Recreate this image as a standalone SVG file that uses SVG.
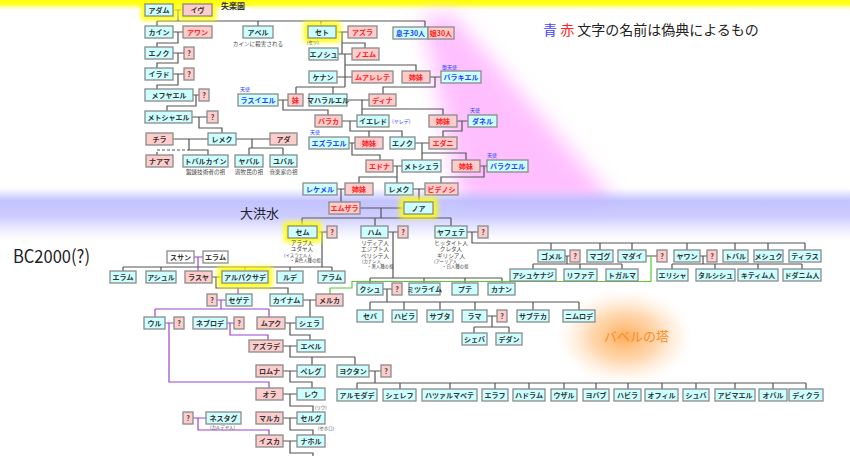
<svg xmlns="http://www.w3.org/2000/svg" width="850" height="456" viewBox="0 0 850 456">
<defs>
<linearGradient id="yel" x1="0" y1="0" x2="0" y2="1"><stop offset="0" stop-color="#ffff00"/><stop offset="0.45" stop-color="#ffff30"/><stop offset="1" stop-color="#ffff80" stop-opacity="0"/></linearGradient>
<linearGradient id="blu" x1="0" y1="0" x2="0" y2="1"><stop offset="0" stop-color="#b8b8ff" stop-opacity="0"/><stop offset="0.25" stop-color="#b8b8ff" stop-opacity="0.85"/><stop offset="0.55" stop-color="#c0c0ff" stop-opacity="0.8"/><stop offset="1" stop-color="#d0d0ff" stop-opacity="0"/></linearGradient>
<radialGradient id="org" cx="0.5" cy="0.5" r="0.5"><stop offset="0" stop-color="#ffa040" stop-opacity="0.85"/><stop offset="0.5" stop-color="#ffb870" stop-opacity="0.55"/><stop offset="1" stop-color="#ffe0c0" stop-opacity="0"/></radialGradient>
<filter id="blur10" x="-50%" y="-50%" width="200%" height="200%"><feGaussianBlur stdDeviation="10"/></filter>
<filter id="glow" x="-50%" y="-50%" width="200%" height="200%"><feGaussianBlur stdDeviation="2.6"/></filter>
</defs>
<style>
text{font-family:"Noto Sans CJK JP","Noto Sans",sans-serif;}
.c{fill:#ccffff;stroke:#8a8a8a;stroke-width:1.3;}
.p{fill:#ffcccc;stroke:#8a8a8a;stroke-width:1.3;}
.w{fill:#ffffff;stroke:#8a8a8a;stroke-width:1.3;}
.g{fill:#ffff00;filter:url(#glow);}
.n{font-size:7px;font-weight:bold;text-anchor:middle;}
.t{fill:#333333;}
.r{fill:#ff2020;}
.b{fill:#2040ff;}
.s{font-size:5.6px;text-anchor:middle;fill:#444444;}
.xs{font-size:4.4px;fill:#444444;}
.a{font-size:5px;fill:#2040ff;}
.ln{fill:none;stroke:#555555;stroke-width:1.2;}
.pl{fill:none;stroke:#9944cc;stroke-width:1.2;}
.gl{fill:none;stroke:#55cc33;stroke-width:1.2;}
.dl{fill:none;stroke:#555555;stroke-width:1.2;stroke-dasharray:3 2;}
</style>
<rect width="850" height="456" fill="#ffffff"/>
<g id="background">
<rect x="0" y="0" width="850" height="10" fill="url(#yel)"/>
<polygon points="422,18 452,14 618,205 462,205" fill="#ffaaff" opacity="0.75" filter="url(#blur10)"/>
<rect x="0" y="188" width="850" height="52" fill="url(#blu)"/>
<ellipse cx="625" cy="337" rx="68" ry="48" fill="url(#org)"/>
</g>
<g id="labels">
<text x="221" y="8.5" font-size="8" font-weight="bold" fill="#333">失楽園</text>
<text x="543" y="35" font-size="14"><tspan fill="#4444ff">青</tspan><tspan fill="#ff2020"> 赤</tspan><tspan fill="#222"> 文字の名前は偽典によるもの</tspan></text>
<text x="240" y="218" font-size="13" fill="#222">大洪水</text>
<text x="13" y="263" font-size="18" fill="#222" textLength="77" lengthAdjust="spacingAndGlyphs">BC2000(?)</text>
<text x="604" y="341" font-size="13" fill="#ff8a20">バベルの塔</text>
</g>
<g id="connectors">
<path class="ln" d="M173,10H183M178,10V21M157,21H425M157,21V26M258,21V26M321,21V26M425,21V27"/>
<path class="ln" d="M173,32H183M178,32V43H157V47M173,53H184M178,53V63H157V68M173,74H184M178,74V85H157V89M193,95H199M196,95V106H167V111M192,117H207M199,117V128H222V133"/>
<path class="ln" d="M173,139H208M236,139H270M189,139V150H208V155M252,139V148M249,148H283M249,148V155M283,148V155"/>
<path class="dl" d="M157,155V150H189"/>
<path class="ln" d="M336,32H348M342,32V54M342,43H365V48M338,54H352M345,54V87M345,65H416V71M337,77H352M296,87H345M296,87V94M333,87V94M430,77H441M435,77V87H383V94"/>
<path class="ln" d="M278,100H288M283,100V110H328V115M347,100H369M362,100V115M362,109H443V115M342,121H357M350,121V131H402V137M369,131V137M457,121H468M462,121V131H443V137"/>
<path class="ln" d="M349,143H355M352,143V155H380V160M414,143H429M422,143V160M422,153H466V160M393,166H402M397,166V183M397,177H359V183M480,166H487M484,166V177H441V183M337,189H345M341,189V202M413,189H425M419,189V202"/>
<path class="ln" d="M360,208H404M381,208V218M302,218H451M302,218V226M375,218V226M451,218V226"/>
<path class="ln" d="M317,232H327M322,232V267M123,267H332M123,267V271M161,267V271M245,267V271M290,267V271M332,267V271"/>
<path class="ln" d="M388,232H398M393,232V278M370,278H502M370,278V283M424,278V283M465,278V283M502,278V283"/>
<path class="ln" d="M467,232H478M472,232V243H805M551,243V250M600,243V250M632,243V250M687,243V250M735,243V250M768,243V250M805,243V250"/>
<path class="ln" d="M565,256H570M567,256V264M533,264H622M533,264V269M580,264V269M622,264V269M646,256H657M700,256H707M703,256V264M672,264H802M672,264V269M715,264V269M758,264V269M802,264V269"/>
<path class="ln" d="M383,289H392M387,289V302M370,302H579M370,302V310M404,302V310M440,302V310M475,302V310M533,302V310M579,302V310M487,316H497M492,316V327M474,327H509M474,327V333M509,327V333"/>
<path class="ln" d="M212,277H222M216,277V288H288V294M303,300H316M310,300V317M285,323H296M290,323V335H310V340M283,346H297M290,346V357H355M312,357V365M355,357V365M283,371H297M290,371V382H312V388"/>
<path class="ln" d="M369,371H381M375,371V383M357,383H806M357,383V389M400,383V389M450,383V389M495,383V389M529,383V389M564,383V389M596,383V389M628,383V389M662,383V389M696,383V389M735,383V389M773,383V389M806,383V389"/>
<path class="ln" d="M283,394H297M290,394V406H313V412M283,418H297M290,418V430H313V435M283,441H297M290,441V453H313V456"/>
<path class="pl" d="M194,257H203M198,257V271M238,288V294M217,300H226M221,300V309M155,309H269M155,309V317M269,309V317M165,323H174M169,323V382H269V388M227,323H234M230,323V335H268V340M193,418H206M198,418V430H269V435"/>
<path class="gl" d="M651,256V281.5H352V288H330V294"/>
</g>
<g id="adam"><rect class="g" x="141" y="0" width="36" height="20"/><rect class="c" x="145" y="4" width="28" height="12"/><text class="n t" x="159" y="12.7">アダム</text></g>
<g id="eve"><rect class="g" x="179" y="0" width="37" height="20"/><rect class="p" x="183" y="4" width="29" height="12"/><text class="n t" x="197.5" y="12.7">イヴ</text></g>
<g id="cain"><rect class="c" x="145" y="26" width="28" height="12"/><text class="n t" x="159" y="34.7">カイン</text></g>
<g id="awan"><rect class="p" x="183" y="26" width="29" height="12"/><text class="n r" x="197.5" y="34.7">アワン</text></g>
<g id="abel"><rect class="c" x="243" y="26" width="30" height="12"/><text class="n t" x="258" y="34.7">アベル</text><text class="s" x="258" y="46">カインに殺害される</text></g>
<g id="seth"><rect class="g" x="304" y="22" width="36" height="20"/><rect class="c" x="308" y="26" width="28" height="12"/><text class="n t" x="322" y="34.7">セト</text><text class="xs" x="307" y="44">(セツ)</text></g>
<g id="azura"><rect class="p" x="348" y="26" width="29" height="12"/><text class="n r" x="362.5" y="34.7">アズラ</text></g>
<g id="sons30"><rect class="c" x="393" y="27" width="35" height="12"/><rect class="p" x="428" y="27" width="26" height="12"/><text class="n b" x="410.5" y="35.7">息子30人</text><text class="n r" x="441" y="35.7">娘30人</text></g>
<g id="enoch1"><rect class="c" x="145" y="47" width="28" height="12"/><text class="n t" x="159" y="55.7">エノク</text></g>
<g id="q1"><rect class="p" x="184" y="47" width="10" height="12"/><text class="n t" x="189" y="55.7">?</text></g>
<g id="enosh"><rect class="c" x="309" y="48" width="29" height="12"/><text class="n t" x="323.5" y="56.7">エノシュ</text></g>
<g id="noam"><rect class="p" x="352" y="48" width="27" height="12"/><text class="n r" x="365.5" y="56.7">ノエム</text></g>
<g id="irad"><rect class="c" x="145" y="68" width="28" height="12"/><text class="n t" x="159" y="76.7">イラド</text></g>
<g id="q2"><rect class="p" x="184" y="68" width="10" height="12"/><text class="n t" x="189" y="76.7">?</text></g>
<g id="kenan"><rect class="c" x="309" y="71" width="28" height="12"/><text class="n t" x="323" y="79.7">ケナン</text></g>
<g id="mualelet"><rect class="p" x="352" y="71" width="41" height="12"/><text class="n r" x="372.5" y="79.7">ムアレレテ</text></g>
<g id="sister1"><rect class="p" x="402" y="71" width="28" height="12"/><text class="n r" x="416" y="79.7">姉妹</text></g>
<g id="barakiel"><text class="a" x="442" y="69">堕天使</text><rect class="c" x="441" y="71" width="40" height="12"/><text class="n b" x="461" y="79.7">バラキエル</text></g>
<g id="mehujael"><rect class="c" x="145" y="89" width="48" height="12"/><text class="n t" x="169" y="97.7">メフヤエル</text></g>
<g id="q3"><rect class="p" x="199" y="89" width="10" height="12"/><text class="n t" x="204" y="97.7">?</text></g>
<g id="rasuiel"><text class="a" x="240" y="91">天使</text><rect class="c" x="238" y="94" width="40" height="12"/><text class="n b" x="258" y="102.7">ラスイエル</text></g>
<g id="imouto"><rect class="p" x="288" y="94" width="15" height="12"/><text class="n r" x="295.5" y="102.7">妹</text></g>
<g id="mahalalel"><rect class="c" x="309" y="94" width="38" height="12"/><text class="n t" x="328" y="102.7">マハラルエル</text></g>
<g id="dina"><rect class="p" x="369" y="94" width="27" height="12"/><text class="n r" x="382.5" y="102.7">ディナ</text></g>
<g id="methushael"><rect class="c" x="145" y="111" width="47" height="12"/><text class="n t" x="168.5" y="119.7">メトシャエル</text></g>
<g id="q4"><rect class="p" x="207" y="111" width="11" height="12"/><text class="n t" x="212.5" y="119.7">?</text></g>
<g id="baraka"><rect class="p" x="315" y="115" width="27" height="12"/><text class="n r" x="328.5" y="123.7">バラカ</text></g>
<g id="jared"><rect class="c" x="357" y="115" width="32" height="12"/><text class="n t" x="373" y="123.7">イエレド</text><text class="a" x="392" y="123" font-size="5.6">(ヤレデ)</text></g>
<g id="sister2"><rect class="p" x="429" y="115" width="28" height="12"/><text class="n r" x="443" y="123.7">姉妹</text></g>
<g id="danel"><text class="a" x="470" y="112">天使</text><rect class="c" x="468" y="115" width="29" height="12"/><text class="n b" x="482.5" y="123.7">ダネル</text></g>
<g id="zillah"><rect class="p" x="146" y="133" width="27" height="12"/><text class="n t" x="159.5" y="141.7">チラ</text></g>
<g id="lamech1"><rect class="c" x="208" y="133" width="28" height="12"/><text class="n t" x="222" y="141.7">レメク</text></g>
<g id="adah"><rect class="p" x="270" y="133" width="27" height="12"/><text class="n t" x="283.5" y="141.7">アダ</text></g>
<g id="ezrael"><text class="a" x="310" y="134">天使</text><rect class="c" x="309" y="137" width="40" height="12"/><text class="n b" x="329" y="145.7">エズラエル</text></g>
<g id="sister3"><rect class="p" x="355" y="137" width="28" height="12"/><text class="n r" x="369" y="145.7">姉妹</text></g>
<g id="enoch2"><rect class="c" x="390" y="137" width="25" height="12"/><text class="n t" x="402.5" y="145.7">エノク</text></g>
<g id="edni"><rect class="p" x="429" y="137" width="28" height="12"/><text class="n r" x="443" y="145.7">エダニ</text></g>
<g id="naamah"><rect class="p" x="146" y="155" width="27" height="12"/><text class="n t" x="159.5" y="163.7">ナアマ</text></g>
<g id="tubalcain"><rect class="c" x="183" y="155" width="45" height="12"/><text class="n t" x="205.5" y="163.7">トバルカイン</text><text class="s" x="205.5" y="173.5" font-size="5">鍛錬技術者の祖</text></g>
<g id="jabal"><rect class="c" x="235" y="155" width="28" height="12"/><text class="n t" x="249" y="163.7">ヤバル</text><text class="s" x="249" y="173.5" font-size="5">遊牧民の祖</text></g>
<g id="jubal"><rect class="c" x="270" y="155" width="27" height="12"/><text class="n t" x="283.5" y="163.7">ユバル</text><text class="s" x="283.5" y="173.5" font-size="5">音楽家の祖</text></g>
<g id="edna"><rect class="p" x="366" y="160" width="27" height="12"/><text class="n r" x="379.5" y="168.7">エドナ</text></g>
<g id="methuselah"><rect class="c" x="402" y="160" width="39" height="12"/><text class="n t" x="421.5" y="168.7">メトシェラ</text></g>
<g id="sister4"><rect class="p" x="452" y="160" width="28" height="12"/><text class="n r" x="466" y="168.7">姉妹</text></g>
<g id="baraqiel"><text class="a" x="487" y="157">天使</text><rect class="c" x="487" y="160" width="41" height="12"/><text class="n b" x="507.5" y="168.7">バラクエル</text></g>
<g id="rakeel"><rect class="c" x="303" y="183" width="34" height="12"/><text class="n b" x="320" y="191.7">レケメル</text></g>
<g id="sister5"><rect class="p" x="345" y="183" width="28" height="12"/><text class="n r" x="359" y="191.7">姉妹</text></g>
<g id="lamech2"><rect class="c" x="385" y="183" width="28" height="12"/><text class="n t" x="399" y="191.7">レメク</text></g>
<g id="betenos"><rect class="p" x="425" y="183" width="33" height="12"/><text class="n r" x="441.5" y="191.7">ビデノシ</text></g>
<g id="emzara"><rect class="p" x="329" y="202" width="31" height="12"/><text class="n r" x="344.5" y="210.7">エムザラ</text></g>
<g id="noah"><rect class="g" x="400" y="198" width="37" height="20"/><rect class="c" x="404" y="202" width="29" height="12"/><text class="n t" x="418.5" y="210.7">ノア</text></g>
<g id="shem"><rect class="g" x="284" y="222" width="37" height="20"/><rect class="c" x="288" y="226" width="29" height="12"/><text class="n t" x="302.5" y="234.7">セム</text>
<text class="s" x="302" y="244.5">アラブ人</text><text class="s" x="302" y="251">ユダヤ人</text><text class="xs" x="284" y="257">(イスラエル人</text><text class="xs" x="290" y="262">・黄色人種の祖</text></g>
<g id="q5"><rect class="p" x="327" y="226" width="10" height="12"/><text class="n t" x="332" y="234.7">?</text></g>
<g id="ham"><rect class="c" x="361" y="226" width="27" height="12"/><text class="n t" x="374.5" y="234.7">ハム</text>
<text class="s" x="375" y="244.5">リディア人</text><text class="s" x="375" y="251">エジプト人</text><text class="s" x="375" y="257.5">ペリシテ人</text><text class="xs" x="362" y="263">(カナン人</text><text class="xs" x="367" y="268">・黒人種の祖</text></g>
<g id="q6"><rect class="p" x="398" y="226" width="10" height="12"/><text class="n t" x="403" y="234.7">?</text></g>
<g id="japheth"><rect class="c" x="435" y="226" width="32" height="12"/><text class="n t" x="451" y="234.7">ヤフェテ</text>
<text class="s" x="451" y="244.5">ヒッタイト人</text><text class="s" x="451" y="251">クレタ人</text><text class="s" x="451" y="257.5">ギリシア人</text><text class="xs" x="434" y="263">(アーリア人</text><text class="xs" x="442" y="268">・白人種の祖</text></g>
<g id="q7"><rect class="p" x="478" y="226" width="10" height="12"/><text class="n t" x="483" y="234.7">?</text></g>
<g id="susan"><rect class="w" x="167" y="251" width="27" height="12"/><text class="n t" x="180.5" y="259.7">スサン</text></g>
<g id="elam0"><rect class="w" x="203" y="251" width="25" height="12"/><text class="n t" x="215.5" y="259.7">エラム</text></g>
<g id="elam"><rect class="c" x="110" y="271" width="26" height="12"/><text class="n t" x="123" y="279.7">エラム</text></g>
<g id="asshur"><rect class="c" x="146" y="271" width="30" height="12"/><text class="n t" x="161" y="279.7">アシュル</text></g>
<g id="rasuya"><rect class="p" x="185" y="271" width="27" height="12"/><text class="n t" x="198.5" y="279.7">ラスヤ</text></g>
<g id="arpachshad"><rect class="g" x="218" y="267" width="54" height="20"/><rect class="c" x="222" y="271" width="46" height="12"/><text class="n t" x="245" y="279.7">アルパクサデ</text></g>
<g id="lud"><rect class="c" x="277" y="271" width="26" height="12"/><text class="n t" x="290" y="279.7">ルデ</text></g>
<g id="aram"><rect class="c" x="318" y="271" width="27" height="12"/><text class="n t" x="331.5" y="279.7">アラム</text></g>
<g id="q8"><rect class="p" x="207" y="294" width="10" height="12"/><text class="n t" x="212" y="302.7">?</text></g>
<g id="segete"><rect class="c" x="226" y="294" width="26" height="12"/><text class="n t" x="239" y="302.7">セゲテ</text></g>
<g id="kainam"><rect class="c" x="270" y="294" width="33" height="12"/><text class="n t" x="286.5" y="302.7">カイナム</text></g>
<g id="melka"><rect class="p" x="316" y="294" width="27" height="12"/><text class="n t" x="329.5" y="302.7">メルカ</text></g>
<g id="ur"><rect class="c" x="144" y="317" width="21" height="12"/><text class="n t" x="154.5" y="325.7">ウル</text></g>
<g id="q9"><rect class="p" x="174" y="317" width="10" height="12"/><text class="n t" x="179" y="325.7">?</text></g>
<g id="nebrod"><rect class="c" x="193" y="317" width="34" height="12"/><text class="n t" x="210" y="325.7">ネブロデ</text></g>
<g id="q10"><rect class="p" x="234" y="317" width="10" height="12"/><text class="n t" x="239" y="325.7">?</text></g>
<g id="muak"><rect class="p" x="257" y="317" width="28" height="12"/><text class="n t" x="271" y="325.7">ムアク</text></g>
<g id="shelah"><rect class="c" x="296" y="317" width="27" height="12"/><text class="n t" x="309.5" y="325.7">シェラ</text></g>
<g id="azurad"><rect class="p" x="249" y="340" width="34" height="12"/><text class="n t" x="266" y="348.7">アズラデ</text></g>
<g id="eber"><rect class="c" x="297" y="340" width="28" height="12"/><text class="n t" x="311" y="348.7">エベル</text></g>
<g id="romna"><rect class="p" x="256" y="365" width="27" height="12"/><text class="n t" x="269.5" y="373.7">ロムナ</text></g>
<g id="peleg"><rect class="c" x="297" y="365" width="28" height="12"/><text class="n t" x="311" y="373.7">ペレグ</text></g>
<g id="joktan"><rect class="c" x="337" y="365" width="32" height="12"/><text class="n t" x="353" y="373.7">ヨクタン</text></g>
<g id="q11"><rect class="p" x="381" y="365" width="10" height="12"/><text class="n t" x="386" y="373.7">?</text></g>
<g id="almodad"><rect class="c" x="337" y="389" width="40" height="12"/><text class="n t" x="357" y="397.7">アルモダデ</text></g>
<g id="sheleph"><rect class="c" x="383" y="389" width="33" height="12"/><text class="n t" x="399.5" y="397.7">シェレフ</text></g>
<g id="hazarmaveth"><rect class="c" x="422" y="389" width="55" height="12"/><text class="n t" x="449.5" y="397.7">ハツァルマベテ</text></g>
<g id="jerah"><rect class="c" x="482" y="389" width="26" height="12"/><text class="n t" x="495" y="397.7">エラフ</text></g>
<g id="hadoram"><rect class="c" x="513" y="389" width="32" height="12"/><text class="n t" x="529" y="397.7">ハドラム</text></g>
<g id="uzal"><rect class="c" x="551" y="389" width="26" height="12"/><text class="n t" x="564" y="397.7">ウザル</text></g>
<g id="jobab"><rect class="c" x="583" y="389" width="26" height="12"/><text class="n t" x="596" y="397.7">ヨバブ</text></g>
<g id="havilah2"><rect class="c" x="614" y="389" width="27" height="12"/><text class="n t" x="627.5" y="397.7">ハビラ</text></g>
<g id="ophir"><rect class="c" x="645" y="389" width="33" height="12"/><text class="n t" x="661.5" y="397.7">オフィル</text></g>
<g id="sheba2"><rect class="c" x="683" y="389" width="26" height="12"/><text class="n t" x="696" y="397.7">シュバ</text></g>
<g id="abimael"><rect class="c" x="715" y="389" width="40" height="12"/><text class="n t" x="735" y="397.7">アビマエル</text></g>
<g id="obal"><rect class="c" x="759" y="389" width="28" height="12"/><text class="n t" x="773" y="397.7">オバル</text></g>
<g id="diklah"><rect class="c" x="789" y="389" width="34" height="12"/><text class="n t" x="806" y="397.7">ディクラ</text></g>
<g id="ora"><rect class="p" x="256" y="388" width="27" height="12"/><text class="n t" x="269.5" y="396.7">オラ</text></g>
<g id="reu"><rect class="c" x="297" y="388" width="28" height="12"/><text class="n t" x="311" y="396.7">レウ</text><text class="xs" x="315" y="408.5" font-size="5">(リウ)</text></g>
<g id="q12"><rect class="p" x="183" y="412" width="10" height="12"/><text class="n t" x="188" y="420.7">?</text></g>
<g id="nestag"><rect class="c" x="206" y="412" width="35" height="12"/><text class="n t" x="223.5" y="420.7">ネスタグ</text><text class="xs" x="210" y="429" font-size="4">(カルデヤ人)</text></g>
<g id="malka"><rect class="p" x="256" y="412" width="27" height="12"/><text class="n t" x="269.5" y="420.7">マルカ</text></g>
<g id="serug"><rect class="c" x="297" y="412" width="28" height="12"/><text class="n t" x="311" y="420.7">セルグ</text><text class="xs" x="318" y="430" font-size="5">(セホロ)</text></g>
<g id="iska"><rect class="p" x="256" y="435" width="27" height="12"/><text class="n t" x="269.5" y="443.7">イスカ</text></g>
<g id="nahor"><rect class="c" x="297" y="435" width="28" height="12"/><text class="n t" x="311" y="443.7">ナホル</text></g>
<g id="cush"><rect class="c" x="357" y="283" width="26" height="12"/><text class="n t" x="370" y="291.7">クシュ</text></g>
<g id="q13"><rect class="p" x="392" y="283" width="10" height="12"/><text class="n t" x="397" y="291.7">?</text></g>
<g id="mizraim"><rect class="c" x="409" y="283" width="31" height="12"/><text class="n t" x="424.5" y="291.7">ミツライム</text></g>
<g id="put"><rect class="c" x="452" y="283" width="26" height="12"/><text class="n t" x="465" y="291.7">プテ</text></g>
<g id="canaan"><rect class="c" x="488" y="283" width="27" height="12"/><text class="n t" x="501.5" y="291.7">カナン</text></g>
<g id="seba"><rect class="c" x="357" y="310" width="26" height="12"/><text class="n t" x="370" y="318.7">セバ</text></g>
<g id="havilah1"><rect class="c" x="392" y="310" width="25" height="12"/><text class="n t" x="404.5" y="318.7">ハビラ</text></g>
<g id="sabtah"><rect class="c" x="427" y="310" width="26" height="12"/><text class="n t" x="440" y="318.7">サブタ</text></g>
<g id="raamah"><rect class="c" x="462" y="310" width="25" height="12"/><text class="n t" x="474.5" y="318.7">ラマ</text></g>
<g id="q14"><rect class="p" x="497" y="310" width="10" height="12"/><text class="n t" x="502" y="318.7">?</text></g>
<g id="sabteca"><rect class="c" x="517" y="310" width="32" height="12"/><text class="n t" x="533" y="318.7">サブテカ</text></g>
<g id="nimrod"><rect class="c" x="563" y="310" width="32" height="12"/><text class="n t" x="579" y="318.7">ニムロデ</text></g>
<g id="sheba"><rect class="c" x="462" y="333" width="25" height="12"/><text class="n t" x="474.5" y="341.7">シェバ</text></g>
<g id="dedan"><rect class="c" x="496" y="333" width="26" height="12"/><text class="n t" x="509" y="341.7">デダン</text></g>
<g id="gomer"><rect class="c" x="538" y="250" width="27" height="12"/><text class="n t" x="551.5" y="258.7">ゴメル</text></g>
<g id="q15"><rect class="p" x="570" y="250" width="10" height="12"/><text class="n t" x="575" y="258.7">?</text></g>
<g id="magog"><rect class="c" x="587" y="250" width="26" height="12"/><text class="n t" x="600" y="258.7">マゴグ</text></g>
<g id="madai"><rect class="c" x="618" y="250" width="28" height="12"/><text class="n t" x="632" y="258.7">マダイ</text></g>
<g id="q16"><rect class="p" x="657" y="250" width="10" height="12"/><text class="n t" x="662" y="258.7">?</text></g>
<g id="javan"><rect class="c" x="674" y="250" width="26" height="12"/><text class="n t" x="687" y="258.7">ヤワン</text></g>
<g id="q17"><rect class="p" x="707" y="250" width="10" height="12"/><text class="n t" x="712" y="258.7">?</text></g>
<g id="tubal"><rect class="c" x="723" y="250" width="25" height="12"/><text class="n t" x="735.5" y="258.7">トバル</text></g>
<g id="meshech"><rect class="c" x="754" y="250" width="29" height="12"/><text class="n t" x="768.5" y="258.7">メシュク</text></g>
<g id="tiras"><rect class="c" x="789" y="250" width="32" height="12"/><text class="n t" x="805" y="258.7">ティラス</text></g>
<g id="ashkenaz"><rect class="c" x="510" y="269" width="46" height="12"/><text class="n t" x="533" y="277.7">アシュケナジ</text></g>
<g id="riphath"><rect class="c" x="564" y="269" width="33" height="12"/><text class="n t" x="580.5" y="277.7">リファテ</text></g>
<g id="togarmah"><rect class="c" x="606" y="269" width="32" height="12"/><text class="n t" x="622" y="277.7">トガルマ</text></g>
<g id="elishah"><rect class="c" x="657" y="269" width="31" height="12"/><text class="n t" x="672.5" y="277.7">エリシャ</text></g>
<g id="tarshish"><rect class="c" x="696" y="269" width="39" height="12"/><text class="n t" x="715.5" y="277.7">タルシシュ</text></g>
<g id="kittim"><rect class="c" x="738" y="269" width="40" height="12"/><text class="n t" x="758" y="277.7">キティム人</text></g>
<g id="dodanim"><rect class="c" x="783" y="269" width="38" height="12"/><text class="n t" x="802" y="277.7">ドダニム人</text></g>
</svg>
